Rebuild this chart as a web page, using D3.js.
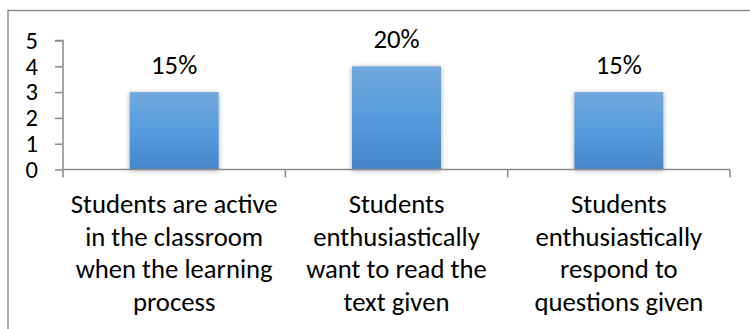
<!DOCTYPE html>
<html><head><meta charset="utf-8">
<script src="https://cdn.jsdelivr.net/npm/d3@7"></script>
<style>
html,body{margin:0;padding:0;background:#fff;}
svg{display:block;}
text{font-family:Calibri,Carlito,"Open Sans",sans-serif;fill:#000;}
</style></head>
<body>
<svg id="chart" width="750" height="329"></svg>
<script>
const categories = [
  ["Students are active","in the classroom","when the learning","process"],
  ["Students","enthusiastically","want to read the","text given"],
  ["Students","enthusiastically","respond to","questions given"]
];
const values = [3, 4, 3];
const valueLabels = ["15%", "20%", "15%"];
const yTicks = [0, 1, 2, 3, 4, 5];

const svg = d3.select("#chart");
const FONT = 'Calibri,Carlito,"Open Sans",sans-serif';
// fit font size so the first label line matches reference width (~207px)
const probe = svg.append("text").attr("font-size", 24).style("font-family", FONT).text("Students are active");
const pw = probe.node().getComputedTextLength();
probe.remove();
const FS = Math.max(18, Math.min(28, 24 * 207 / pw));

const x0 = 63, x1 = 730, yTop = 40.5, yBot = 169.5;

const defs = svg.append("defs");
const grad = defs.append("linearGradient").attr("id","barGrad").attr("x1",0).attr("y1",0).attr("x2",0).attr("y2",1);
grad.append("stop").attr("offset","0%").attr("stop-color","#72a8dc");
grad.append("stop").attr("offset","50%").attr("stop-color","#569cdd");
grad.append("stop").attr("offset","100%").attr("stop-color","#4586c8");
const f = defs.append("filter").attr("id","shadow").attr("x","-20%").attr("y","-20%").attr("width","140%").attr("height","140%");
f.append("feDropShadow").attr("dx",0).attr("dy",1).attr("stdDeviation",2.5).attr("flood-color","#000").attr("flood-opacity",0.35);
const gf = defs.append("filter").attr("id","gshadow").attr("x","-5%").attr("y","-200%").attr("width","110%").attr("height","500%");
gf.append("feDropShadow").attr("dx",0).attr("dy",1).attr("stdDeviation",0.6).attr("flood-color","#000").attr("flood-opacity",0.25);

// frame
svg.append("path").attr("d","M8,329 V10.5 H750").attr("fill","none").attr("stroke","#8e8e8e").attr("stroke-width",1.5);

const x = d3.scaleBand().domain(d3.range(categories.length)).range([x0, x1]).paddingInner(0).paddingOuter(0);
const y = d3.scaleLinear().domain([0, 5]).range([yBot, yTop]);

// gridlines
svg.append("g").selectAll("line").data(yTicks.filter(d => d > 0)).join("line")
  .attr("x1", 55).attr("x2", x1)
  .attr("y1", d => y(d)).attr("y2", d => y(d))
  .attr("stroke", "#8a8a8a").attr("stroke-width", 1.5).attr("filter","url(#gshadow)");

// y axis
const yAxis = d3.axisLeft(y).tickValues(yTicks).tickSize(8).tickPadding(17).tickFormat(d3.format("d"));
const gy = svg.append("g").attr("transform", `translate(${x0},0)`).call(yAxis);
gy.select(".domain").attr("stroke","#8a8a8a").attr("stroke-width",1.5).attr("d", `M-8,${yTop}H0V${yBot}`);
gy.selectAll(".tick line").attr("stroke","#8a8a8a").attr("stroke-width",1.5);
gy.selectAll(".tick text").attr("font-size", FS * 0.92).attr("fill","#000").style("font-family", FONT);

// bars
const bw = 89;
svg.append("g").selectAll("rect").data(values).join("rect")
  .attr("x", (d, i) => x(i) + x.bandwidth()/2 - bw/2)
  .attr("width", bw)
  .attr("y", d => y(d))
  .attr("height", d => y(0) - y(d))
  .attr("fill", "url(#barGrad)")
  .attr("filter","url(#shadow)");

// x axis
const xAxis = d3.axisBottom(x).tickSize(0).tickFormat("");
const gx = svg.append("g").attr("transform", `translate(0,${yBot})`).call(xAxis);
gx.select(".domain").attr("stroke","#8a8a8a").attr("stroke-width",1.5).attr("d", `M${x0},0H${x1}`);
const bounds = [x0].concat(d3.range(categories.length).map(i => x(i) + x.bandwidth()));
gx.selectAll(".bound").data(bounds).join("line").attr("class","bound")
  .attr("x1", d => d).attr("x2", d => d).attr("y1", 0).attr("y2", 8)
  .attr("stroke","#8a8a8a").attr("stroke-width",1.5);

// value labels
svg.append("g").selectAll("text").data(values).join("text")
  .attr("x", (d, i) => x(i) + x.bandwidth()/2)
  .attr("y", d => y(d) - 18.5)
  .attr("text-anchor","middle").attr("font-size", FS)
  .text((d, i) => valueLabels[i]);

// category labels
const cg = svg.append("g").selectAll("text").data(categories).join("text")
  .attr("text-anchor","middle").attr("font-size", FS);
cg.each(function(lines, i) {
  d3.select(this).selectAll("tspan").data(lines).join("tspan")
    .attr("x", x(i) + x.bandwidth()/2)
    .attr("y", (l, j) => 212.7 + j * 32.8)
    .text(l => l);
});
</script>
</body></html>
